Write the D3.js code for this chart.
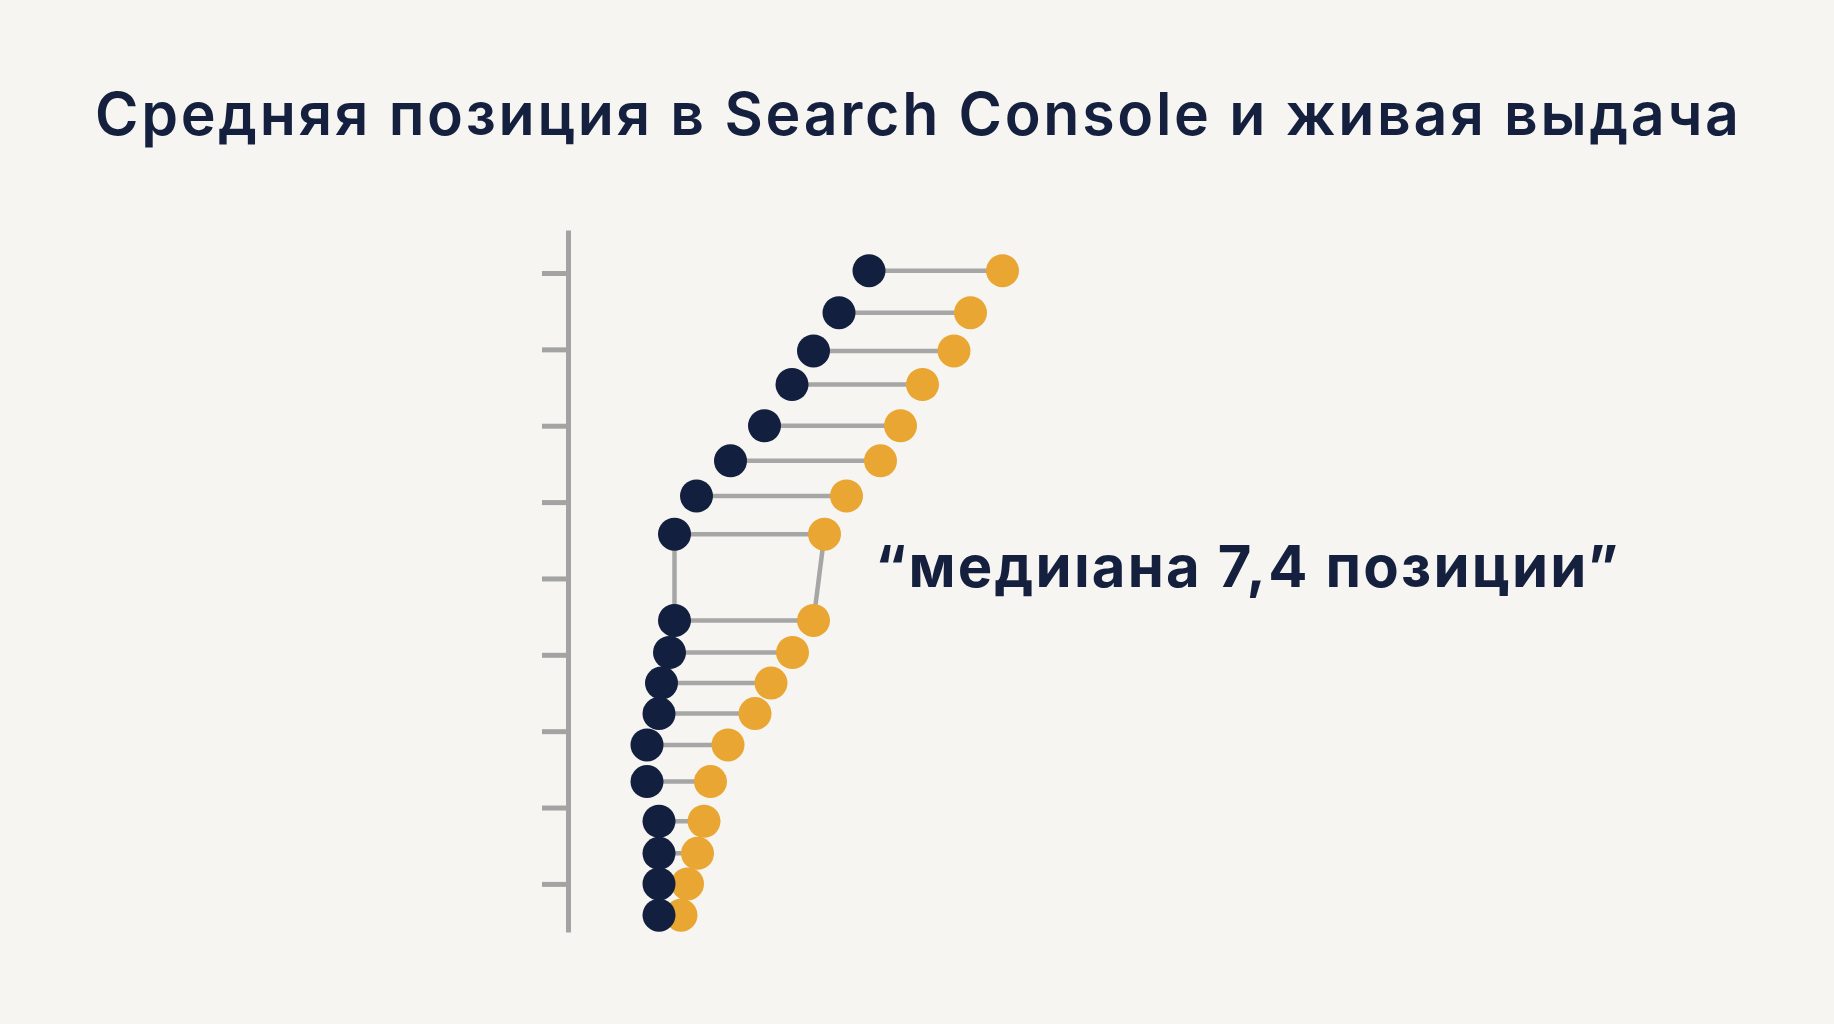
<!DOCTYPE html>
<html><head><meta charset="utf-8">
<script src="https://cdn.jsdelivr.net/npm/d3@7"></script>
<style>html,body{margin:0;padding:0;background:#f6f5f1;} svg{display:block}</style>
</head><body>
<svg id="chart" width="1834" height="1024"></svg>
<script>
// ---- data ----
const rowPositions = [0.97, 1.52, 2.02, 2.46, 3.00, 3.46, 3.92, 4.42, 5.55, 5.97, 6.37, 6.77, 7.18, 7.66, 8.18, 8.60, 9.00, 9.41];
const searchConsole = [6.02, 5.42, 4.91, 4.48, 3.93, 3.25, 2.57, 2.13, 2.13, 2.03, 1.87, 1.82, 1.58, 1.58, 1.82, 1.82, 1.82, 1.82];
const liveSerp = [8.69, 8.05, 7.72, 7.09, 6.65, 6.25, 5.57, 5.13, 4.91, 4.49, 4.06, 3.74, 3.20, 2.85, 2.72, 2.59, 2.39, 2.26];
const breakAfterRow = [7];
const yTicks = [1, 2, 3, 4, 5, 6, 7, 8, 9];
const titleText = "Средняя позиция в Search Console и живая выдача";
const annotationText = "“медиıана 7,4 позиции”";

// ---- styles ----
const NAVY = "#121f3e", ORANGE = "#e9a633", GRAY = "#a6a6a6", AXIS = "#a3a3a3", TEXT = "#14203d";

const svg = d3.select("#chart");
svg.append("rect").attr("width", 1834).attr("height", 1024).attr("fill", "#f6f5f1");

const x = d3.scaleLinear().domain([0, 10]).range([568, 1068]);
const y = d3.scaleLinear().domain([0.437, 9.63]).range([230, 932]);

// axis
const axisG = svg.append("g").attr("transform", `translate(${x(0)},0)`)
  .call(d3.axisLeft(y).tickValues(yTicks).tickSize(26).tickSizeOuter(0).tickFormat(""));
axisG.select(".domain").attr("stroke", AXIS).attr("stroke-width", 5);
axisG.selectAll(".tick line").attr("stroke", AXIS).attr("stroke-width", 5);

const rows = rowPositions.map((p, i) => ({p, a: searchConsole[i], b: liveSerp[i]}));

// connectors
svg.append("g").selectAll("line").data(rows).join("line")
  .attr("x1", d => x(d.a)).attr("x2", d => x(d.b))
  .attr("y1", d => y(d.p)).attr("y2", d => y(d.p))
  .attr("stroke", GRAY).attr("stroke-width", 4.5);

const brk = svg.append("g");
breakAfterRow.forEach(i => {
  const r0 = rows[i], r1 = rows[i + 1];
  brk.append("line").attr("x1", x(r0.a)).attr("x2", x(r1.a)).attr("y1", y(r0.p)).attr("y2", y(r1.p))
    .attr("stroke", GRAY).attr("stroke-width", 4.5);
  brk.append("line").attr("x1", x(r0.b)).attr("x2", x(r1.b)).attr("y1", y(r0.p)).attr("y2", y(r1.p))
    .attr("stroke", GRAY).attr("stroke-width", 4.5);
});

// dots
svg.append("g").selectAll("circle").data(rows).join("circle")
  .attr("cx", d => x(d.b)).attr("cy", d => y(d.p)).attr("r", 16.5).attr("fill", ORANGE);
svg.append("g").selectAll("circle").data(rows).join("circle")
  .attr("cx", d => x(d.a)).attr("cy", d => y(d.p)).attr("r", 16.5).attr("fill", NAVY);

// title
svg.append("text").attr("x", 95).attr("y", 135)
  .attr("font-family", "Inter, 'Open Sans', sans-serif").attr("font-weight", 600).attr("font-size", 59)
  .attr("fill", TEXT).attr("textLength", 1644).attr("lengthAdjust", "spacing").text(titleText);

// annotation
svg.append("text").attr("x", 875).attr("y", 587)
  .attr("font-family", "Inter, 'Open Sans', sans-serif").attr("font-weight", 700).attr("font-size", 58)
  .attr("fill", TEXT).attr("textLength", 743).attr("lengthAdjust", "spacing").text(annotationText);
</script>
</body></html>
